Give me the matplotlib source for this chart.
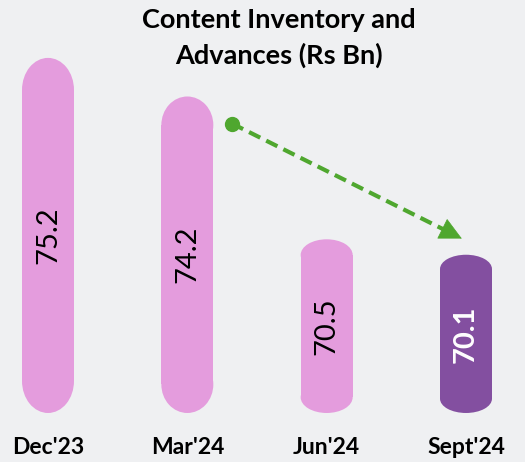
import matplotlib
matplotlib.use("Agg")
import matplotlib.pyplot as plt
from matplotlib.patches import Rectangle, Ellipse, FancyArrowPatch

categories = ["Dec'23", "Mar'24", "Jun'24", "Sept'24"]
values = [75.2, 74.2, 70.5, 70.1]
value_labels = ["75.2", "74.2", "70.5", "70.1"]
title = "Content Inventory and\nAdvances (Rs Bn)"

base = 66.0
pink = "#E49CDD"
purple = "#834FA0"
green = "#4FA72F"
bar_colors = [pink, pink, pink, purple]
label_colors = ["black", "black", "black", "white"]
label_weights = ["normal", "normal", "normal", "bold"]

fig = plt.figure(figsize=(5.25, 4.62), dpi=100)
fig.patch.set_facecolor("#EFF0F2")
ax = fig.add_axes([0, 0, 1, 1])
ax.set_facecolor("#EFF0F2")
ax.set_xlim(-0.3445, 3.4235)
ax.set_ylim(64.73, 76.70)
ax.axis("off")

w = 0.373
for i, (v, c) in enumerate(zip(values, bar_colors)):
    h = v - base
    ry = 0.09 * h
    ax.add_patch(Rectangle((i - w / 2, base + ry), w, h - 2 * ry, facecolor=c, edgecolor="none"))
    ax.add_patch(Ellipse((i, v - ry), w, 2 * ry, facecolor=c, edgecolor="none"))
    ax.add_patch(Ellipse((i, base + ry), w, 2 * ry, facecolor=c, edgecolor="none"))
    ax.text(i, (v + base) / 2, value_labels[i], rotation=90, ha="center", va="center",
            fontsize=21, family="Lato", color=label_colors[i], fontweight=label_weights[i])

tr = ax.get_xaxis_transform()
for i, cat in enumerate(categories):
    ax.text(i, 1 - 448 / 462, cat, transform=tr, ha="center", va="center",
            fontsize=16.5, family="Lato", fontweight="bold", color="black")

fig.text(279 / 525, 1 - 38 / 462, title, ha="center", va="center", fontsize=19.5,
         family="Lato", fontweight="bold", color="black", linespacing=1.5)

# trend arrow from Mar'24 to Sept'24
start = (1 + 0.32, values[1] - 0.70)
end = (3 - 0.03, values[3] + 0.42)
frac = 0.05
line_end = (end[0] - frac * (end[0] - start[0]), end[1] - frac * (end[1] - start[1]))
ax.plot([start[0], line_end[0]], [start[1], line_end[1]], color=green, lw=3,
        linestyle=(0, (3, 1.6)), dash_capstyle="butt", zorder=5)
ax.plot([start[0]], [start[1]], "o", color=green, markersize=10, zorder=6)
head_start = (end[0] - 0.1 * (end[0] - start[0]), end[1] - 0.1 * (end[1] - start[1]))
arrow = FancyArrowPatch(head_start, end, arrowstyle="-|>,head_length=1.5,head_width=0.75",
                        mutation_scale=10, color=green, lw=0.5,
                        shrinkA=0, shrinkB=0, zorder=6)
ax.add_patch(arrow)

fig.savefig("out.png", dpi=100, facecolor=fig.get_facecolor())
